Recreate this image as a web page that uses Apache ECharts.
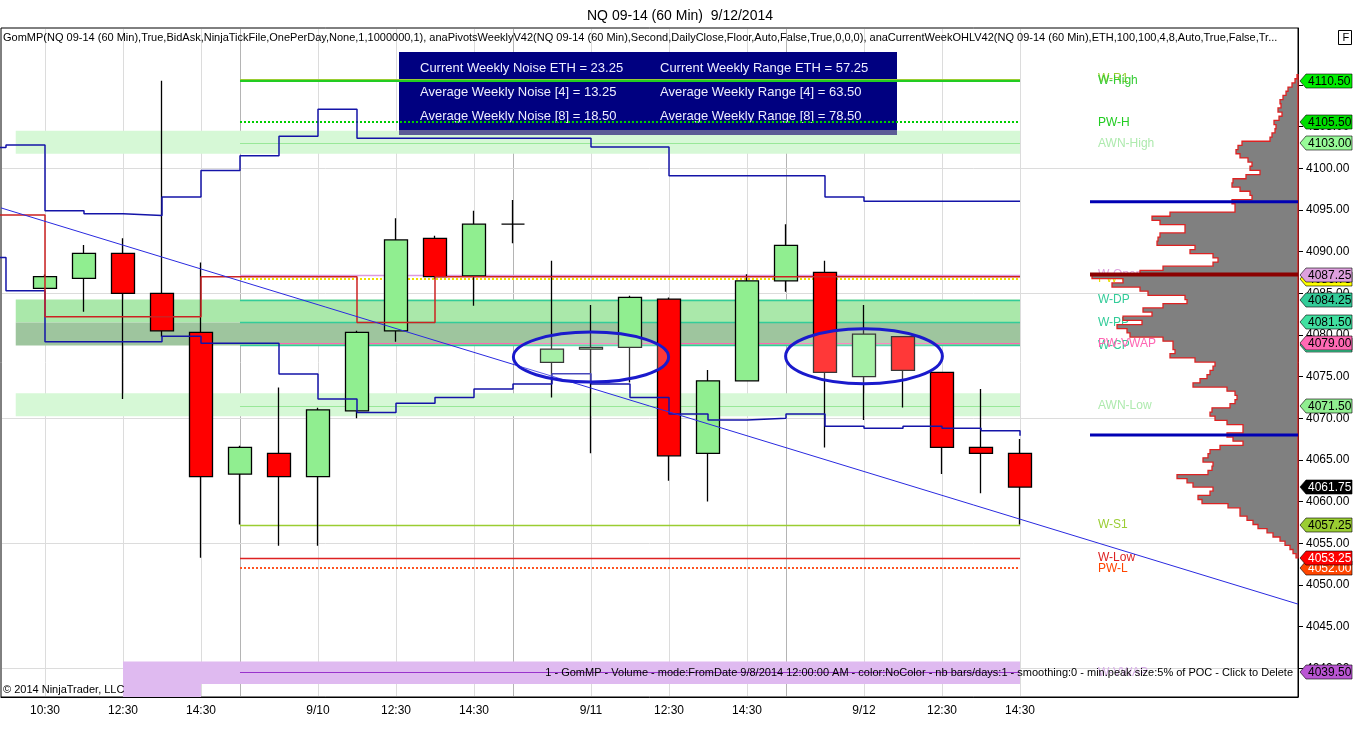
<!DOCTYPE html>
<html><head><meta charset="utf-8">
<script src="https://cdn.jsdelivr.net/npm/echarts@6/dist/echarts.min.js"></script>
<style>html,body{margin:0;padding:0;background:#fff}#c{width:1360px;height:743px}</style>
</head><body><div id="c"></div>
<script>
// ---------------- DATA ----------------
const xLabelIdx = [0,2,4,7,9,11,14,16,18,21,23,25];
const xLabelText = ['10:30','12:30','14:30','9/10','12:30','14:30','9/11','12:30','14:30','9/12','12:30','14:30'];
const sessionBreakIdx = [5,12,19];
const priceTicks = [4040,4045,4050,4055,4060,4065,4070,4075,4080,4085,4090,4095,4100,4105,4110];
const priceGrid = [4040,4055,4070,4085,4100];

const opens  = [4085.6,4086.8,4089.8,4085.0,4080.3,4063.3,4065.8,4063.0,4070.9,4080.5,4091.6,4087.1,4093.3,4076.7,4078.3,4078.5,4084.3,4065.8,4074.5,4086.5,4087.5,4075.0,4079.8,4075.5,4066.5,4065.8];
const closes = [4087.0,4089.8,4085.0,4080.5,4063.0,4066.5,4063.0,4071.0,4080.3,4091.4,4087.0,4093.3,4093.3,4078.3,4078.5,4084.5,4065.5,4074.5,4086.5,4090.75,4075.5,4080.1,4075.75,4066.5,4065.8,4061.75];
const lows   = [4085.5,4082.8,4072.3,4079.8,4053.25,4057.25,4054.7,4054.7,4070.0,4079.2,4086.75,4083.5,4091.0,4072.5,4065.8,4074.3,4062.5,4060.0,4074.5,4085.2,4066.5,4069.8,4071.3,4063.3,4061.0,4057.25];
const highs  = [4087.25,4090.8,4091.6,4110.5,4088.7,4066.7,4073.7,4071.25,4080.5,4094.0,4091.9,4094.9,4096.2,4088.9,4083.6,4084.7,4084.5,4075.8,4087.3,4093.3,4088.9,4083.6,4079.8,4075.5,4073.5,4067.5];

// step indicators, first value belongs to bar index -2
const stepStart = -2;
const upperNoise = [4102.5,4102.8,4094.9,4094.55,4094.35,4096.55,4099.75,4101.5,4103.85,4107.1,4103.6,4103.6,4103.6,4103.6,4103.6,4103.6,4102.55,4102.55,4099.1,4099.1,4099.1,4099.1,4096.55,4096.05,4096.05,4096.05,4096.05,4096.05];
const lowerNoise = [4089.3,4085.3,4079.2,4079.2,4079.2,4079.85,4079.0,4079.0,4075.3,4072.3,4070.7,4071.8,4072.5,4073.5,4074.1,4075.35,4074.1,4072.5,4070.5,4069.8,4070.0,4070.5,4069.05,4068.8,4069.05,4068.8,4068.5,4067.9];
const dailyClose = [4094.4,4094.4,4082.2,4082.2,4082.2,4082.2,4087.0,4087.0,4087.0,4087.0,4081.5,4081.5,4087.0,4087.0,4087.0,4087.0,4087.0,4087.0,4087.0,4087.0,4087.0,4087.0,4087.0,4087.0,4087.0,4087.0,4087.0,4087.0];

const trendIdx = [-1.128, 32.128];
const trendPrice = [4095.25, 4047.7];

const levelNames  = ['W-R1','W-High','PW-H','AWN-High','PW-C','W-Open','W-DP','W-PP','W-CP','PW-VWAP','AWN-Low','W-S1','W-Low','PW-L','W-VWAP'];
const levelPrices = [4110.75,4110.5,4105.5,4103.0,4086.75,4087.25,4084.25,4081.5,4078.75,4079.0,4071.5,4057.25,4053.25,4052.0,4039.5];
const levelFrom = 5, levelTo = 25, levelLabelIdx = 27;

const bandFrom = [-0.75,-0.75,-0.75,-0.75,2,2];
const bandTo   = [25,25,25,25,25,4];
const bandLow  = [4101.75,4070.25,4081.5,4078.75,4038.1,4030];
const bandHigh = [4104.5,4073.0,4084.25,4081.5,4040.8,4038.1];

const profilePrices = [4111.0,4110.5,4110.0,4109.5,4109.0,4108.5,4108.0,4107.5,4107.0,4106.5,4106.0,4105.5,4105.0,4104.5,4104.0,4103.5,4103.0,4102.5,4102.0,4101.5,4101.0,4100.5,4100.0,4099.5,4099.0,4098.5,4098.0,4097.5,4097.0,4096.5,4096.0,4095.5,4095.0,4094.5,4094.0,4093.5,4093.0,4092.5,4092.0,4091.5,4091.0,4090.5,4090.0,4089.5,4089.0,4088.5,4088.0,4087.5,4087.0,4086.5,4086.0,4085.5,4085.0,4084.5,4084.0,4083.5,4083.0,4082.5,4082.0,4081.5,4081.0,4080.5,4080.0,4079.5,4079.0,4078.5,4078.0,4077.5,4077.0,4076.5,4076.0,4075.5,4075.0,4074.5,4074.0,4073.5,4073.0,4072.5,4072.0,4071.5,4071.0,4070.5,4070.0,4069.5,4069.0,4068.5,4068.0,4067.5,4067.0,4066.5,4066.0,4065.5,4065.0,4064.5,4064.0,4063.5,4063.0,4062.5,4062.0,4061.5,4061.0,4060.5,4060.0,4059.5,4059.0,4058.5,4058.0,4057.5,4057.0,4056.5,4056.0,4055.5,4055.0,4054.5,4054.0,4053.5];
const profileVolume = [1,3,6,10,12,15,18,17,20,16,19,24,22,23,26,28,56,60,62,58,50,46,48,38,52,65,66,58,48,46,66,63,63,128,146,138,113,113,138,140,141,103,108,85,80,85,135,158,206,175,186,158,150,113,111,135,155,146,175,156,181,171,168,135,125,125,123,128,103,83,85,88,91,98,105,71,63,61,63,68,86,88,83,71,55,55,71,65,55,78,88,90,95,85,86,90,121,111,105,85,88,100,96,70,58,58,51,45,40,31,25,18,13,8,5,2];
const profileBinHalf = 0.25;
const profileLinePrices = [4096.0, 4068.0, 4087.25]; // VA high, VA low, POC
const profileLineLen = 208;

const flagPrices = [4110.5,4105.5,4103.0,4086.75,4087.25,4084.25,4081.5,4078.75,4079.0,4071.5,4061.75,4057.25,4052.0,4053.25,4039.5];

const ellipseIdx = [14,21];
const ellipsePrice = [4077.35,4077.45];
const ellipseHalfBars = [1.99,2.01];
const ellipseHalfPts = [3.0,3.3];

const noiseRows = [['Current Weekly Noise ETH = 23.25','Current Weekly Range ETH = 57.25'],['Average Weekly Noise [4] = 13.25','Average Weekly Range [4] = 63.50'],['Average Weekly Noise [8] = 18.50','Average Weekly Range [8] = 78.50']];

// ---------------- STYLES ----------------
const FONT = '"Liberation Sans", Arial, sans-serif';
const levelStyle = {
 'W-R1':    {c:'#9acd32', w:1,   d:null,  t:'#9acd32'},
 'W-High':  {c:'#22cc22', w:2,   d:null,  t:'#33cc33'},
 'PW-H':    {c:'#00cc00', w:2,   d:[2,2], t:'#22cc22'},
 'AWN-High':{c:'#98e898', w:1,   d:null,  t:'#aeeaae'},
 'PW-C':    {c:'#f0e000', w:2,   d:[2,2], t:'#e8e000'},
 'W-Open':  {c:'#dd99dd', w:1.5, d:null,  t:'#dda0dd'},
 'W-DP':    {c:'#33cc99', w:1.5, d:null,  t:'#33cc99'},
 'W-PP':    {c:'#33cc99', w:1.5, d:null,  t:'#33cc99'},
 'W-CP':    {c:'#33cc99', w:1.5, d:null,  t:'#33cc99'},
 'PW-VWAP': {c:'#ff66b3', w:1,   d:null,  t:'#ff66b3'},
 'AWN-Low': {c:'#98e898', w:1,   d:null,  t:'#aeeaae'},
 'W-S1':    {c:'#9acd32', w:1.5, d:null,  t:'#9acd32'},
 'W-Low':   {c:'#dd2222', w:1.5, d:null,  t:'#dd2222'},
 'PW-L':    {c:'#ff5522', w:2,   d:[2,2], t:'#ff4500'},
 'W-VWAP':  {c:'#9933cc', w:1,   d:null,  t:'#d8b0e8'}
};
const bandColors = ['#d6f8d6','#d6f8d6','#aae8aa','#9ec59e','#dfbaf0','#dfbaf0'];
const flagFill = ['#00ee00','#00dd00','#98fb98','#ffff00','#dda0dd','#33cc99','#40e0a0','#40e0a0','#ff69b4','#90ee90','#000000','#9acd32','#ff4500','#ff0000','#ba55d3'];
const flagTextColor = ['#000','#000','#000','#000','#000','#000','#000','#000','#000','#000','#fff','#000','#fff','#fff','#000'];

const xMin = -1.128, xMax = 32.128, yMin = 4036.55, yMax = 4116.84;
const gridRect = {left:1, right:62, top:28, bottom:46};

// ---------------- CHART ----------------
const chart = echarts.init(document.getElementById('c'));
const crisp = v => Math.round(v) + 0.5;
const BOXZ = 3;

const option = {
 animation:false,
 title:{text:'NQ 09-14 (60 Min)  9/12/2014', left:'center', top:4, textStyle:{fontSize:14, fontWeight:'normal', color:'#000', fontFamily:FONT}},
 grid:[Object.assign({show:true, borderColor:'#000', borderWidth:1, backgroundColor:'#fff'}, gridRect), Object.assign({}, gridRect)],
 xAxis:[
  {gridIndex:0, type:'value', min:xMin, max:xMax,
   axisLine:{show:true, onZero:false, lineStyle:{color:'#000'}}, axisTick:{show:false}, splitLine:{show:false},
   axisLabel:{customValues:xLabelIdx, color:'#000', fontSize:12, fontFamily:FONT, margin:8,
     formatter:v=>{const k=xLabelIdx.indexOf(Math.round(v)); return k>=0?xLabelText[k]:'';}}},
  {gridIndex:1, type:'value', min:0, max:1297, inverse:true, show:false}
 ],
 yAxis:[
  {gridIndex:0, type:'value', position:'right', min:yMin, max:yMax,
   axisLine:{show:true, onZero:false, lineStyle:{color:'#000'}},
   axisTick:{show:true, length:5, customValues:priceTicks, lineStyle:{color:'#000'}},
   axisLabel:{customValues:priceTicks, formatter:v=>v.toFixed(2), color:'#000', fontSize:12, fontFamily:FONT, margin:8},
   splitLine:{show:false}},
  {gridIndex:1, type:'value', min:yMin, max:yMax, show:false}
 ],
 graphic:[
  {type:'text', left:3, top:32, z:20, style:{text:'GomMP(NQ 09-14 (60 Min),True,BidAsk,NinjaTickFile,OnePerDay,None,1,1000000,1), anaPivotsWeeklyV42(NQ 09-14 (60 Min),Second,DailyClose,Floor,Auto,False,True,0,0,0), anaCurrentWeekOHLV42(NQ 09-14 (60 Min),ETH,100,100,4,8,Auto,True,False,Tr...', font:'11px '+FONT, fill:'#000'}},
  {type:'group', left:1338, top:30, children:[
    {type:'rect', z:20, shape:{x:0,y:0,width:13,height:14}, style:{fill:'#fff', stroke:'#000', lineWidth:1}},
    {type:'text', z:21, style:{text:'F', x:4, y:2, font:'11px '+FONT, fill:'#000'}}]},
  {type:'group', left:399, top:52, children:[
    {type:'rect', z:BOXZ, shape:{x:0,y:0,width:498,height:78}, style:{fill:'#000080'}},
    {type:'rect', z:BOXZ, shape:{x:0,y:78,width:498,height:5}, style:{fill:'#5c5c96'}},
    ...noiseRows.flatMap((r,k)=>[
      {type:'text', z:BOXZ, style:{text:r[0], x:21, y:16+k*24, verticalAlign:'middle', font:'13px '+FONT, fill:'#eeeeff'}},
      {type:'text', z:BOXZ, style:{text:r[1], x:261, y:16+k*24, verticalAlign:'middle', font:'13px '+FONT, fill:'#eeeeff'}}])
  ]},
  {type:'text', left:3, top:684, z:20, style:{text:'\u00a9 2014 NinjaTrader, LLC', font:'11px '+FONT, fill:'#000'}},
  {type:'text', right:67, top:667, z:20, style:{text:'1 - GomMP - Volume - mode:FromDate 9/8/2014 12:00:00 AM - color:NoColor - nb bars/days:1 - smoothing:0 - min.peak size:5% of POC - Click to Delete', font:'11px '+FONT, fill:'#000'}}
 ],
 series:[
  // vertical grid
  {type:'custom', z:1, silent:true, xAxisIndex:0, yAxisIndex:0,
   data: xLabelIdx.map(i=>[i,0]).concat(sessionBreakIdx.map(i=>[i,1])),
   renderItem:(params, api)=>{const cs=params.coordSys; const x=crisp(api.coord([api.value(0), yMin])[0]);
     return {type:'line', shape:{x1:x,y1:cs.y+1,x2:x,y2:cs.y+cs.height-1}, style:{stroke:api.value(1)?'#b4b4b4':'#dcdcdc', lineWidth:1}};}},
  // horizontal grid
  {type:'custom', z:1, silent:true, xAxisIndex:0, yAxisIndex:0,
   data: priceGrid.map(p=>[0,p]),
   renderItem:(params, api)=>{const cs=params.coordSys; const y=crisp(api.coord([0, api.value(1)])[1]);
     return {type:'line', shape:{x1:cs.x+1,y1:y,x2:cs.x+cs.width-1,y2:y}, style:{stroke:'#dcdcdc', lineWidth:1}};}},
  // bands
  {type:'custom', z:2, silent:true, clip:true, xAxisIndex:0, yAxisIndex:0,
   data: bandFrom.map((f,k)=>[f,bandTo[k],bandLow[k],bandHigh[k]]),
   renderItem:(params, api)=>{const a=api.coord([api.value(0), api.value(3)]); const b=api.coord([api.value(1), api.value(2)]);
     return {type:'rect', shape:{x:a[0],y:a[1],width:b[0]-a[0],height:b[1]-a[1]}, style:{fill:bandColors[params.dataIndex]}};}},
  // level lines
  {type:'custom', z:4, silent:true, xAxisIndex:0, yAxisIndex:0,
   data: levelPrices.map(p=>[levelFrom, levelTo, p]),
   renderItem:(params, api)=>{const st=levelStyle[levelNames[params.dataIndex]];
     const a=api.coord([api.value(0), api.value(2)]); const b=api.coord([api.value(1), api.value(2)]); const y=Math.round(a[1])+(st.w%2?0.5:0);
     return {type:'line', shape:{x1:a[0],y1:y,x2:b[0],y2:y}, style:{stroke:st.c, lineWidth:st.w, lineDash:st.d||null}};}},
  // level labels
  {type:'custom', z:4, silent:true, xAxisIndex:0, yAxisIndex:0,
   data: levelPrices.map(p=>[levelLabelIdx, p]),
   renderItem:(params, api)=>{const st=levelStyle[levelNames[params.dataIndex]]; const a=api.coord([api.value(0), api.value(1)]);
     return {type:'text', style:{text:levelNames[params.dataIndex], x:a[0], y:a[1], verticalAlign:'middle', align:'left', font:'12px '+FONT, fill:st.t}};}},
  // candles
  {type:'candlestick', z:5, silent:true, xAxisIndex:0, yAxisIndex:0, barWidth:24,
   data: opens.map((o,i)=>[i,o,closes[i],lows[i],highs[i]]),
   itemStyle:{color:'#90ee90', color0:'#ff0000', borderColor:'#000', borderColor0:'#000', borderColorDoji:'#000', borderWidth:1.3}},
  // step lines
  {type:'line', z:6, silent:true, step:'end', symbol:'none', data: upperNoise.map((v,k)=>[k+stepStart,v]), lineStyle:{color:'#1414a8', width:1.5}},
  {type:'line', z:6, silent:true, step:'end', symbol:'none', data: lowerNoise.map((v,k)=>[k+stepStart,v]), lineStyle:{color:'#1414a8', width:1.5}},
  {type:'line', z:6, silent:true, step:'end', symbol:'none', data: dailyClose.map((v,k)=>[k+stepStart,v]), lineStyle:{color:'#cc2222', width:1.5}},
  {type:'line', z:6, silent:true, symbol:'none', data: trendIdx.map((x,k)=>[x,trendPrice[k]]), lineStyle:{color:'#2a2ae0', width:1}},
  // ellipses
  {type:'custom', z:7, silent:true, xAxisIndex:0, yAxisIndex:0,
   data: ellipseIdx.map((x,k)=>[x,ellipsePrice[k],ellipseHalfBars[k],ellipseHalfPts[k]]),
   renderItem:(params, api)=>{const c=api.coord([api.value(0), api.value(1)]); const s=api.size([api.value(2), api.value(3)]);
     return {type:'ellipse', shape:{cx:c[0],cy:c[1],rx:s[0],ry:s[1]}, style:{fill:'rgba(255,255,255,0.22)', stroke:'#1a1acc', lineWidth:3}};}},
  // volume profile
  {type:'custom', z:8, silent:true, xAxisIndex:1, yAxisIndex:1, data:[[0,0]],
   renderItem:(params, api)=>{const pts=[]; const n=profilePrices.length;
     pts.push(api.coord([0, profilePrices[0]+profileBinHalf]));
     for(let k=0;k<n;k++){pts.push(api.coord([profileVolume[k], profilePrices[k]+profileBinHalf])); pts.push(api.coord([profileVolume[k], profilePrices[k]-profileBinHalf]));}
     pts.push(api.coord([0, profilePrices[n-1]-profileBinHalf]));
     return {type:'polygon', shape:{points:pts}, style:{fill:'#808080', stroke:'#dd2222', lineWidth:1.3}};}},
  {type:'custom', z:9, silent:true, xAxisIndex:1, yAxisIndex:1,
   data: profileLinePrices.map(p=>[0,p]),
   renderItem:(params, api)=>{const a=api.coord([0, api.value(1)]); const b=api.coord([profileLineLen, api.value(1)]); const poc=params.dataIndex===2;
     return {type:'line', shape:{x1:a[0],y1:a[1],x2:b[0],y2:b[1]}, style:{stroke:poc?'#8b0000':'#0000b4', lineWidth:poc?4:3}};}},
  // price flags
  {type:'custom', z:10, silent:true, clip:false, xAxisIndex:0, yAxisIndex:0,
   data: flagPrices.map(p=>[0,p]),
   renderItem:(params, api)=>{const cs=params.coordSys; const ax=cs.x+cs.width; const y=Math.round(api.coord([0, api.value(1)])[1]); const h=7; const i=params.dataIndex;
     return {type:'group', children:[
       {type:'polygon', shape:{points:[[ax+2,y],[ax+8,y-h],[ax+54,y-h],[ax+54,y+h],[ax+8,y+h]]}, style:{fill:flagFill[i], stroke:'rgba(0,0,0,0.6)', lineWidth:1}},
       {type:'text', style:{text:api.value(1).toFixed(2), x:ax+10, y:y+0.5, verticalAlign:'middle', align:'left', font:'12px '+FONT, fill:flagTextColor[i]}}]};}}
 ]
};
chart.setOption(option);
</script>
</body></html>
